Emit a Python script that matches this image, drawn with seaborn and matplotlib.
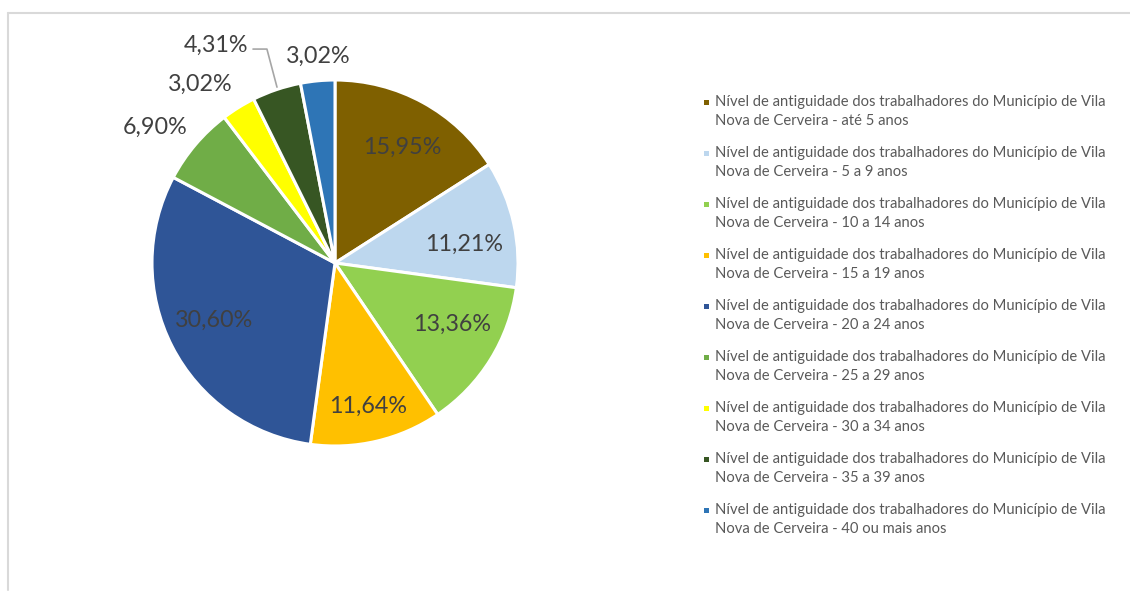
import matplotlib
matplotlib.use("Agg")
import matplotlib.pyplot as plt
import seaborn as sns
from matplotlib.lines import Line2D
from matplotlib.patches import Rectangle

# ---- data ----
categories = ["até 5 anos", "5 a 9 anos", "10 a 14 anos", "15 a 19 anos",
              "20 a 24 anos", "25 a 29 anos", "30 a 34 anos", "35 a 39 anos",
              "40 ou mais anos"]
values = [15.95, 11.21, 13.36, 11.64, 30.60, 6.90, 3.02, 4.31, 3.02]
value_labels = ["15,95%", "11,21%", "13,36%", "11,64%", "30,60%",
                "6,90%", "3,02%", "4,31%", "3,02%"]
series_prefix = "Nível de antiguidade dos trabalhadores do Município de Vila\nNova de Cerveira - "
colors = ["#7F6000", "#BDD7EE", "#92D050", "#FFC000", "#2F5597",
          "#70AD47", "#FFFF00", "#375623", "#2E75B6"]

# label positions (in pie-radius units, relative to centre)
label_pos = [(0.366, 0.634), (0.705, 0.104), (0.639, -0.333), (0.180, -0.781),
             (-0.661, -0.311), (-0.984, 0.743), (-0.738, 0.978), (-0.650, 1.191),
             (-0.093, 1.131)]

sns.set_theme(style="white")
plt.rcParams['font.family'] = ['Lato', 'DejaVu Sans']

W, H = 1130, 591
fig = plt.figure(figsize=(W / 100, H / 100), dpi=100)
fig.patch.set_facecolor("white")

cx, cy, R = 335, 263, 183
ax = fig.add_axes([(cx - R) / W, (H - cy - R) / H, 2 * R / W, 2 * R / H])
wedges, _ = ax.pie(values, colors=colors, startangle=90, counterclock=False,
                   radius=1, wedgeprops=dict(edgecolor="white", linewidth=2.2))
ax.set_xlim(-1, 1)
ax.set_ylim(-1, 1)
ax.set_aspect("equal")
ax.axis("off")

for (x, y), lab in zip(label_pos, value_labels):
    ax.text(x, y, lab, ha="center", va="center", fontsize=16.8,
            color="#404040", clip_on=False)

# leader line for the 4,31% label
ax.plot([-0.448, -0.372, -0.317], [1.169, 1.169, 0.961], color="#A6A6A6",
        lw=1.2, clip_on=False)

# legend
for i, (cat, col) in enumerate(zip(categories, colors)):
    yc = 102 + 51 * i
    fig.add_artist(Rectangle((704 / W, (H - yc - 3) / H), 5 / W, 5 / H,
                             transform=fig.transFigure, facecolor=col,
                             edgecolor="none"))
    fig.text(715 / W, (H - yc + 7) / H, series_prefix + cat, ha="left",
             va="top", fontsize=10.6, color="#595959", linespacing=1.42)

# chart border (top and left visible)
fig.add_artist(Line2D([8 / W, 1.0], [(H - 13) / H, (H - 13) / H],
                      transform=fig.transFigure, color="#D9D9D9", lw=1.5))
fig.add_artist(Line2D([8 / W, 8 / W], [(H - 13) / H, 1 / H],
                      transform=fig.transFigure, color="#D9D9D9", lw=1.5))

fig.savefig("out.png", dpi=100, facecolor="white")
